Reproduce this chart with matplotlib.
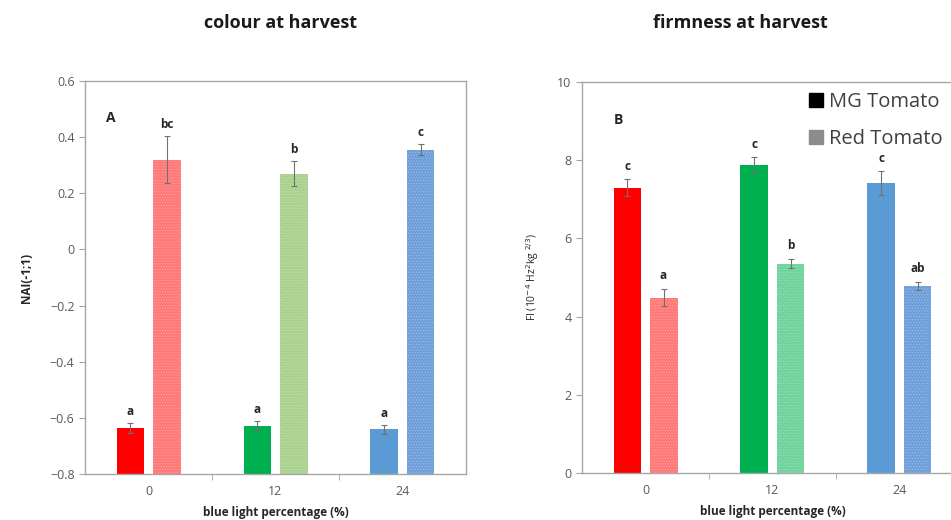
import matplotlib
matplotlib.use("Agg")
import matplotlib.pyplot as plt
import numpy as np
from matplotlib.lines import Line2D

plt.rcParams['font.family'] = ['Open Sans', 'DejaVu Sans']
plt.rcParams['hatch.linewidth'] = 0.5

categories = ["0", "12", "24"]

# Panel A: colour (NAI)
nai_mg = [-0.635, -0.629, -0.641]
nai_mg_err = [0.018, 0.017, 0.015]
nai_red = [0.320, 0.270, 0.356]
nai_red_err = [0.083, 0.044, 0.021]
nai_mg_letters = ["a", "a", "a"]
nai_red_letters = ["bc", "b", "c"]

# Panel B: firmness (FI)
fi_mg = [7.30, 7.88, 7.42]
fi_mg_err = [0.21, 0.20, 0.30]
fi_red = [4.49, 5.36, 4.78]
fi_red_err = [0.22, 0.12, 0.11]
fi_mg_letters = ["c", "c", "c"]
fi_red_letters = ["a", "b", "ab"]

mg_colors = ["#FF0000", "#00B050", "#5B9BD5"]
redA_colors = ["#FF7878", "#A9D18E", "#6E9FDA"]
redB_colors = ["#FF7878", "#6FD39B", "#6E9FDA"]

fig = plt.figure(figsize=(9.51, 5.2), dpi=100)
axA = fig.add_axes([0.0894, 0.0885, 0.4006, 0.7555])
axB = fig.add_axes([0.612, 0.0904, 0.4006, 0.7516])

x = np.arange(len(categories)) + 0.5
w = 0.22
off = 0.142


def draw(ax, mg, mge, red, rede, redcols, mgl, redl, pad, ymin, ymax, yticks, ticklabels):
    base = ymin
    mg_h = [v - base for v in mg]
    red_h = [v - base for v in red]
    ax.bar(x - off, mg_h, w, bottom=base, color=mg_colors, linewidth=0, zorder=2)
    ax.bar(x + off, red_h, w, bottom=base, color=redcols, edgecolor=(1, 1, 1, 0.28),
           hatch='......', linewidth=0, zorder=2)
    ax.errorbar(x - off, mg, yerr=mge, fmt='none', ecolor='#707070', elinewidth=0.8,
                capsize=2.5, capthick=0.8, zorder=3)
    ax.errorbar(x + off, red, yerr=rede, fmt='none', ecolor='#707070', elinewidth=0.8,
                capsize=2.5, capthick=0.8, zorder=3)
    for xi, v, e, t in zip(x - off, mg, mge, mgl):
        ax.text(xi, v + e + pad, t, ha='center', va='bottom', fontsize=8.5,
                fontweight='bold', color='#262626')
    for xi, v, e, t in zip(x + off, red, rede, redl):
        ax.text(xi, v + e + pad, t, ha='center', va='bottom', fontsize=8.5,
                fontweight='bold', color='#262626')
    ax.set_xlim(0, 3)
    ax.set_ylim(ymin, ymax)
    ax.set_yticks(yticks)
    ax.set_yticklabels(ticklabels)
    ax.set_xticks(x)
    ax.set_xticklabels(categories)
    ax.set_xticks([1, 2], minor=True)
    ax.tick_params(axis='x', which='major', length=0, labelsize=9, colors='#595959', pad=8)
    ax.tick_params(axis='x', which='minor', length=4, direction='out', color='#A6A6A6')
    ax.tick_params(axis='y', length=4, direction='out', color='#A6A6A6', labelsize=9,
                   labelcolor='#595959')
    for s in ax.spines.values():
        s.set_color('#A6A6A6')
        s.set_linewidth(1.0)
    ax.set_xlabel("blue light percentage (%)", fontsize=8.5, fontweight='bold',
                  color='#262626', labelpad=6)


draw(axA, nai_mg, nai_mg_err, nai_red, nai_red_err, redA_colors, nai_mg_letters,
     nai_red_letters, 0.018, -0.8, 0.6, np.arange(-0.8, 0.61, 0.2),
     ["\u22120.8", "\u22120.6", "\u22120.4", "\u22120.2", "0", "0.2", "0.4", "0.6"])
draw(axB, fi_mg, fi_mg_err, fi_red, fi_red_err, redB_colors, fi_mg_letters, fi_red_letters,
     0.17, 0, 10, np.arange(0, 11, 2), ["0", "2", "4", "6", "8", "10"])

axA.set_ylabel("NAI(-1;1)", fontsize=8.5, fontweight='bold', color='#262626', labelpad=12)
axB.set_ylabel("FI (10$^{-4}$ Hz$^{2}$kg $^{2/3}$)", fontsize=7.5, color='#262626', labelpad=12)

axA.text(0.055, 0.905, "A", transform=axA.transAxes, fontsize=10, fontweight='bold',
         color='#262626', va='center')
axB.text(0.084, 0.903, "B", transform=axB.transAxes, fontsize=10, fontweight='bold',
         color='#262626', va='center')

fig.text(0.295, 0.955, "colour at harvest", ha='center', va='center', fontsize=13,
         fontweight='bold', color='#1a1a1a')
fig.text(0.778, 0.955, "firmness at harvest", ha='center', va='center', fontsize=13,
         fontweight='bold', color='#1a1a1a')

handles = [Line2D([], [], marker='s', linestyle='none', markersize=10, color='black'),
           Line2D([], [], marker='s', linestyle='none', markersize=10, color='#8c8c8c')]
leg = fig.legend(handles, ["MG Tomato", "Red Tomato"], loc='upper left',
                 bbox_to_anchor=(0.849, 0.823), frameon=False, fontsize=14.5,
                 handletextpad=0.15, labelspacing=0.85, handlelength=0.9, borderaxespad=0,
                 borderpad=0)
for t in leg.get_texts():
    t.set_color('#404040')

fig.savefig("out.png", dpi=100)
